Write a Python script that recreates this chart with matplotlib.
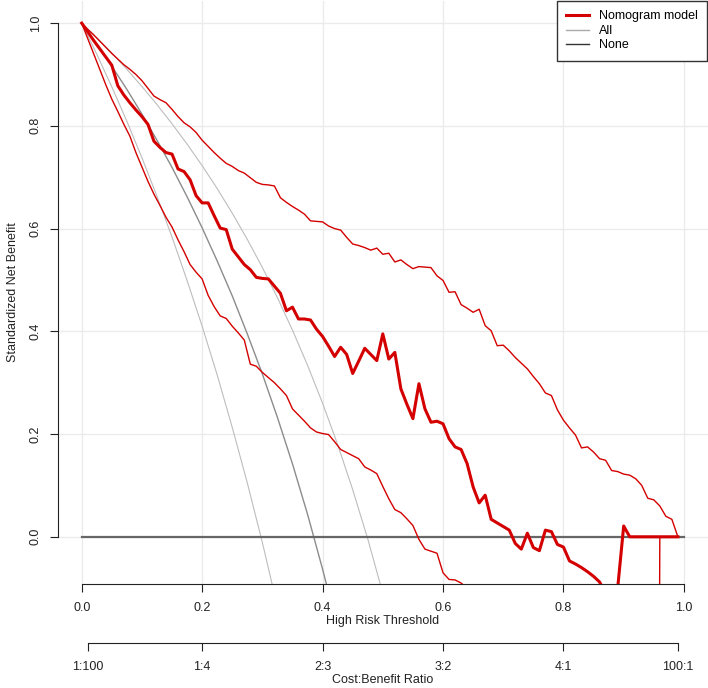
import numpy as np
import matplotlib
matplotlib.use("Agg")
import matplotlib.pyplot as plt
from matplotlib.lines import Line2D

plt.rcParams['font.family'] = ['Liberation Sans', 'DejaVu Sans']

# thresholds 0.00 .. 0.99 for the model curve
thr = np.round(np.arange(0, 1.0, 0.01), 2)

model_nb = [1.000, 0.983, 0.966, 0.950, 0.934, 0.918, 0.878, 0.860, 0.845, 0.831,
            0.818, 0.803, 0.770, 0.758, 0.748, 0.745, 0.716, 0.711, 0.695, 0.664,
            0.650, 0.650, 0.625, 0.601, 0.598, 0.560, 0.545, 0.530, 0.520, 0.505,
            0.503, 0.502, 0.488, 0.474, 0.440, 0.447, 0.424, 0.424, 0.422, 0.404,
            0.390, 0.371, 0.351, 0.369, 0.355, 0.318, 0.342, 0.367, 0.355, 0.343,
            0.395, 0.346, 0.359, 0.288, 0.258, 0.230, 0.298, 0.249, 0.223, 0.225,
            0.220, 0.191, 0.175, 0.170, 0.1425, 0.097, 0.066, 0.081, 0.034, 0.027,
            0.020, 0.013, -0.013, -0.024, 0.007, -0.021, -0.027, 0.013, 0.010, -0.015,
            -0.020, -0.047, -0.053, -0.060, -0.068, -0.077, -0.088, -0.110, -0.130, -0.100,
            0.021, 0.0, 0.0, 0.0, 0.0, 0.0, 0.0, 0.0, 0.0, 0.0]

upper_nb = [1.000, 0.988, 0.977, 0.965, 0.953, 0.941, 0.930, 0.919, 0.910, 0.900,
            0.888, 0.873, 0.858, 0.851, 0.845, 0.832, 0.818, 0.806, 0.798, 0.787,
            0.772, 0.760, 0.748, 0.737, 0.727, 0.721, 0.713, 0.708, 0.699, 0.690,
            0.686, 0.685, 0.683, 0.660, 0.651, 0.643, 0.636, 0.628, 0.615, 0.614,
            0.613, 0.605, 0.600, 0.597, 0.583, 0.570, 0.567, 0.563, 0.558, 0.562,
            0.550, 0.552, 0.535, 0.539, 0.530, 0.522, 0.526, 0.525, 0.524, 0.508,
            0.499, 0.476, 0.477, 0.452, 0.445, 0.437, 0.443, 0.411, 0.401, 0.372,
            0.373, 0.362, 0.349, 0.338, 0.327, 0.312, 0.298, 0.280, 0.275, 0.247,
            0.227, 0.212, 0.198, 0.173, 0.175, 0.165, 0.152, 0.149, 0.129, 0.127,
            0.122, 0.120, 0.113, 0.100, 0.075, 0.072, 0.060, 0.040, 0.034, 0.0]

# lower CI, only where it can be seen (it leaves the plot near 0.63)
lower_thr = [0.00, 0.01, 0.02, 0.03, 0.04, 0.05, 0.06, 0.07, 0.08, 0.09,
             0.10, 0.11, 0.12, 0.13, 0.14, 0.15, 0.16, 0.17, 0.18, 0.19,
             0.20, 0.21, 0.22, 0.23, 0.24, 0.25, 0.26, 0.27, 0.28, 0.29,
             0.30, 0.31, 0.32, 0.33, 0.34, 0.35, 0.36, 0.37, 0.38, 0.39,
             0.40, 0.41, 0.42, 0.43, 0.44, 0.45, 0.46, 0.47, 0.48, 0.49,
             0.50, 0.51, 0.52, 0.53, 0.54, 0.55, 0.56, 0.57, 0.58, 0.59,
             0.60, 0.61, 0.62, 0.63, 0.64, 0.65, 0.95, 0.96, 0.97, 0.98, 0.99]
lower_nb = [1.000, 0.970, 0.940, 0.910, 0.880, 0.852, 0.828, 0.803, 0.780, 0.748,
            0.720, 0.692, 0.667, 0.645, 0.622, 0.603, 0.578, 0.555, 0.530, 0.515,
            0.502, 0.470, 0.448, 0.430, 0.425, 0.410, 0.397, 0.383, 0.336, 0.332,
            0.320, 0.310, 0.300, 0.288, 0.275, 0.249, 0.237, 0.225, 0.212, 0.204,
            0.201, 0.199, 0.185, 0.170, 0.164, 0.158, 0.152, 0.136, 0.130, 0.123,
            0.098, 0.074, 0.053, 0.047, 0.035, 0.022, -0.005, -0.024, -0.028, -0.032,
            -0.070, -0.083, -0.084, -0.090, -0.100, -0.120, -3.0, 0.0, 0.0, 0.0, 0.0]

# treat-all curve and its interval
all_thr = [0.0, 0.025, 0.05, 0.075, 0.10, 0.125, 0.15, 0.175, 0.20, 0.225,
           0.25, 0.275, 0.30, 0.325, 0.35, 0.375, 0.40, 0.425, 0.45, 0.475, 0.50]
all_nb = [1.0, 0.959, 0.916, 0.871, 0.823, 0.772, 0.719, 0.662, 0.6015, 0.537,
          0.469, 0.395, 0.317, 0.2325, 0.142, 0.044, -0.063, -0.178, -0.30, -0.43, -0.57]
all_lo = [1.0, 0.9395, 0.876, 0.809, 0.738, 0.663, 0.5835, 0.499, 0.41, 0.315,
          0.213, 0.105, -0.011, -0.136, -0.27, -0.42, -0.57, -0.74, -0.93, -1.13, -1.36]
all_hi = [1.0, 0.9715, 0.9416, 0.910, 0.8767, 0.8414, 0.804, 0.7645, 0.7225, 0.678,
          0.630, 0.579, 0.5243, 0.4656, 0.4023, 0.334, 0.26, 0.1796, 0.0918, -0.004, -0.11]

cb_pos = [0.01, 0.2, 0.4, 0.6, 0.8, 0.99]
cb_labels = ['1:100', '1:4', '2:3', '3:2', '4:1', '100:1']

W, H = 708, 688
fig = plt.figure(figsize=(W / 100, H / 100), dpi=100)
left, right, top, bottom = 57.6, 708, 0.5, 583.7
ax = fig.add_axes([left / W, 1 - bottom / H, (right - left) / W, (bottom - top) / H])
ax.set_xlim(-0.04, 1.04)
ax.set_ylim(-0.0913, 1.044)

for g in [0, 0.2, 0.4, 0.6, 0.8, 1.0]:
    ax.axvline(g, color='#ebebeb', lw=1, zorder=0)
    ax.axhline(g, color='#ebebeb', lw=1, zorder=0)

red = '#d40000'
ax.plot(all_thr, all_lo, color='#bdbdbd', lw=0.8, zorder=2)
ax.plot(all_thr, all_hi, color='#bdbdbd', lw=0.8, zorder=2)
ax.plot(all_thr, all_nb, color='#8c8c8c', lw=1.0, zorder=2)
ax.plot([0, 1], [0, 0], color='#666666', lw=1.6, zorder=3)
ax.plot(lower_thr, lower_nb, color=red, lw=1.0, zorder=4)
ax.plot(thr, upper_nb, color=red, lw=1.0, zorder=4)
ax.plot(thr, model_nb, color=red, lw=2.2, zorder=5)

for s in ['top', 'right']:
    ax.spines[s].set_visible(False)
ax.spines['left'].set_bounds(0, 1)
ax.spines['bottom'].set_bounds(0, 1)
ax.spines['left'].set_color('#222222')
ax.spines['bottom'].set_color('#222222')
ax.set_xticks([0, 0.2, 0.4, 0.6, 0.8, 1.0])
ax.set_xticklabels(['0.0', '0.2', '0.4', '0.6', '0.8', '1.0'])
ax.set_yticks([0, 0.2, 0.4, 0.6, 0.8, 1.0])
ax.set_yticklabels(['0.0', '0.2', '0.4', '0.6', '0.8', '1.0'], rotation=90, va='center')
ax.tick_params(axis='both', length=5.5, color='#222222', labelsize=9, labelcolor='#222222')
ax.tick_params(axis='x', pad=7.5)
ax.tick_params(axis='y', pad=6)
ax.set_xlabel('High Risk Threshold', fontsize=9, color='#222222', labelpad=1)
ax.set_ylabel('Standardized Net Benefit', fontsize=9, color='#222222', labelpad=8)

# cost:benefit ratio axis
ax2 = fig.add_axes([left / W, 1 - 643 / H, (right - left) / W, 0.0001])
ax2.set_xlim(-0.04, 1.04)
for s in ['top', 'right', 'left']:
    ax2.spines[s].set_visible(False)
ax2.spines['bottom'].set_bounds(0.01, 0.99)
ax2.spines['bottom'].set_color('#222222')
ax2.patch.set_visible(False)
ax2.set_yticks([])
ax2.set_xticks(cb_pos)
ax2.set_xticklabels(cb_labels)
ax2.tick_params(axis='x', length=5.5, color='#222222', labelsize=9, labelcolor='#222222', pad=7.5)
ax2.set_xlabel('Cost:Benefit Ratio', fontsize=9, color='#222222', labelpad=1)

handles = [Line2D([], [], color=red, lw=2.2),
           Line2D([], [], color='#aaaaaa', lw=1.0),
           Line2D([], [], color='#333333', lw=1.0)]
leg = fig.legend(handles, ['Nomogram model', 'All', 'None'], loc='upper right',
                 bbox_to_anchor=(707 / W, 1 - 1 / H), bbox_transform=fig.transFigure,
                 fontsize=9, frameon=True, fancybox=False, framealpha=1,
                 edgecolor='#333333', handlelength=1.8, handletextpad=0.8,
                 labelspacing=0.2, borderpad=0.75, borderaxespad=0)
leg.get_frame().set_linewidth(1.0)

fig.savefig('out.png', dpi=100)
